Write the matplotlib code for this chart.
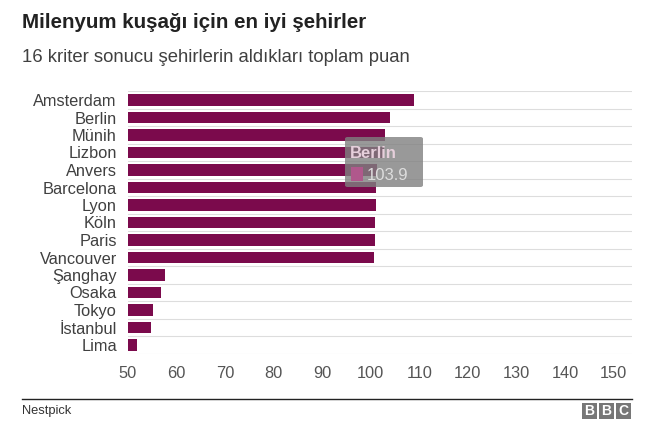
import matplotlib.pyplot as plt
from matplotlib.patches import Rectangle, FancyBboxPatch

plt.rcParams['font.family'] = ['Liberation Sans', 'DejaVu Sans']

# Veriler (Nestpick, 16 kriter toplam puan)
cities = ["Amsterdam", "Berlin", "Münih", "Lizbon", "Anvers", "Barcelona", "Lyon",
          "Köln", "Paris", "Vancouver", "Şanghay", "Osaka", "Tokyo", "İstanbul", "Lima"]
scores = [109.0, 103.9, 103.0, 102.8, 101.3, 101.1, 101.1,
          100.9, 100.9, 100.7, 57.6, 56.7, 55.2, 54.8, 51.9]
xticks = [50, 60, 70, 80, 90, 100, 110, 120, 130, 140, 150]

W, H = 654, 438
fig = plt.figure(figsize=(W / 100, H / 100), dpi=100)

def fx(x):
    return x / W

def fy(y):
    return 1 - y / H

ax = fig.add_axes([fx(128), fy(353.75), fx(632) - fx(128), fy(91.25) - fy(353.75)])
pos = list(range(len(cities)))
ax.barh(pos, [s - 50 for s in scores], left=50, height=0.68, color="#7b0a4c", zorder=2)
for i in range(len(cities) + 1):
    ax.axhline(i - 0.5, color="#dddddd", lw=0.8, zorder=1)
ax.set_xlim(50, 153.8)
ax.set_ylim(len(cities) - 0.5, -0.5)
ax.set_yticks(pos)
ax.set_yticklabels(cities, fontsize=11.8, color="#404040")
ax.set_xticks(xticks)
ax.set_xticklabels([str(t) for t in xticks], fontsize=11.8, color="#555555")
ax.tick_params(axis="y", length=0, pad=8)
ax.tick_params(axis="x", length=0, pad=9)
for s in ax.spines.values():
    s.set_visible(False)

# Tooltip
fig.patches.append(FancyBboxPatch((fx(345), fy(187)), fx(423) - fx(345), fy(137) - fy(187),
                                  boxstyle="round,pad=0,rounding_size=0.004",
                                  transform=fig.transFigure, facecolor="#808080",
                                  alpha=0.8, edgecolor="none", zorder=5))
fig.patches.append(Rectangle((fx(351), fy(181)), fx(363) - fx(351), fy(167) - fy(181),
                             transform=fig.transFigure, facecolor="#b0588c",
                             edgecolor="none", zorder=6))
fig.text(fx(350), fy(153), "Berlin", fontsize=12, fontweight="bold", color="#e6cfdb",
         va="center", ha="left", zorder=7)
fig.text(fx(367), fy(175), "103.9", fontsize=12, color="#dddddd",
         va="center", ha="left", zorder=7)

# Başlıklar
fig.text(fx(22), fy(22), "Milenyum kuşağı için en iyi şehirler", fontsize=14.8,
         fontweight="bold", color="#222222", va="center", ha="left")
fig.text(fx(22), fy(57), "16 kriter sonucu şehirlerin aldıkları toplam puan", fontsize=13.3,
         color="#404040", va="center", ha="left")

# Alt bilgi
fig.add_artist(plt.Line2D([fx(22), fx(632)], [fy(399), fy(399)], color="#222222", lw=1))
fig.text(fx(22), fy(411), "Nestpick", fontsize=9.3, color="#333333", va="center", ha="left")
for k, letter in enumerate("BBC"):
    x0 = 582 + k * 17
    fig.patches.append(Rectangle((fx(x0), fy(419)), fx(15), fy(403) - fy(419),
                                 transform=fig.transFigure, facecolor="#777777",
                                 edgecolor="none"))
    fig.text(fx(x0 + 7.5), fy(411), letter, fontsize=10, fontweight="bold", color="white",
             va="center", ha="center")

fig.savefig("out.png", dpi=100)
